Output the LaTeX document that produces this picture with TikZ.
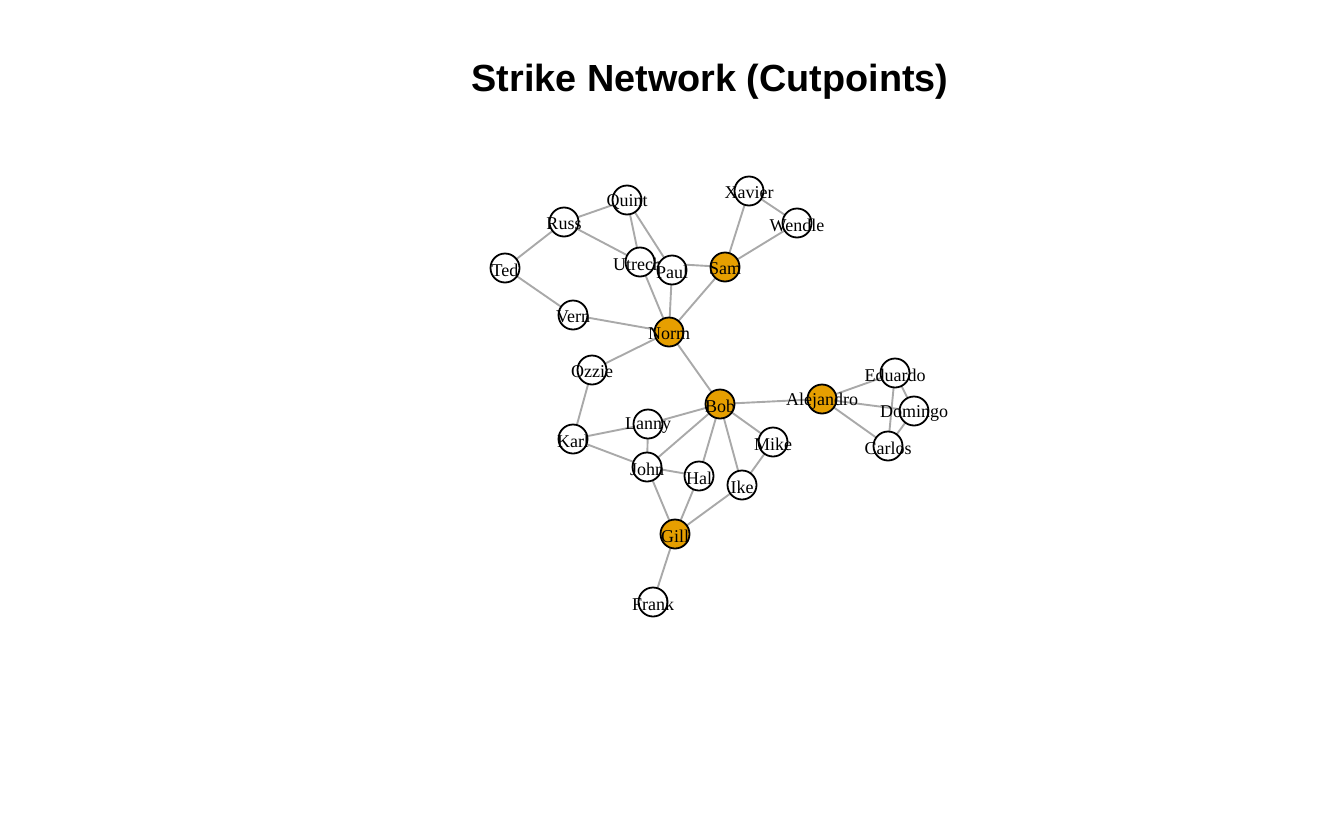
\documentclass[tikz,border=0pt]{standalone}
\usepackage{fontspec}
\setmainfont{Liberation Serif}
\newfontfamily\titlefont{Liberation Sans}
\usetikzlibrary{backgrounds}
\definecolor{edgegrey}{HTML}{A9A9A9}
\definecolor{cutorange}{HTML}{E69F00}

\begin{document}
\begin{tikzpicture}[x=1pt, y=-1pt,
  actor/.style={circle, draw=black, line width=1.8pt, fill=white,
    minimum size=29pt, inner sep=0pt,
    label={[font=\fontsize{18}{18}\selectfont, inner sep=0pt, yshift=-2pt]center:#1}},
  cutpoint/.style={actor=#1, fill=cutorange},
  tie/.style={draw=edgegrey, line width=1.9pt}]
\useasboundingbox (0,0) rectangle (1344,830);
\node (title) at (710,82) {\titlefont\bfseries\fontsize{37.8}{40}\selectfont Strike Network (Cutpoints)};
% upper group
\node (Quint) [actor=Quint] at (627,200) {};
\node (Russ) [actor=Russ] at (564,222) {};
\node (Ted) [actor=Ted] at (505,268) {};
\node (Utrecht) [actor=Utrecht] at (640,262) {};
\node (Paul) [actor=Paul] at (672,270) {};
\node (Sam) [cutpoint=Sam] at (725,267) {};
\node (Xavier) [actor=Xavier] at (749,191) {};
\node (Wendle) [actor=Wendle] at (797,223) {};
\node (Vern) [actor=Vern] at (573,315) {};
\node (Norm) [cutpoint=Norm] at (669,332) {};
% middle group
\node (Ozzie) [actor=Ozzie] at (592,370) {};
\node (Bob) [cutpoint=Bob] at (720,404) {};
\node (Lanny) [actor=Lanny] at (648,424) {};
\node (Karl) [actor=Karl] at (573,439) {};
\node (Mike) [actor=Mike] at (773,442) {};
\node (John) [actor=John] at (647,467) {};
\node (Hal) [actor=Hal] at (699,476) {};
\node (Ike) [actor=Ike] at (742,485) {};
\node (Gill) [cutpoint=Gill] at (675,534) {};
\node (Frank) [actor=Frank] at (653,602) {};
% right group
\node (Alejandro) [cutpoint=Alejandro] at (822,399) {};
\node (Eduardo) [actor=Eduardo] at (895,373) {};
\node (Domingo) [actor=Domingo] at (914,411) {};
\node (Carlos) [actor=Carlos] at (888,446) {};
\begin{scope}[on background layer]
\draw [tie] (Quint.center) -- (Russ.center) -- (Ted.center) -- (Vern.center) -- (Norm.center);
\draw [tie] (Russ.center) -- (Utrecht.center) -- (Quint.center) -- (Paul.center) -- (Norm.center);
\draw [tie] (Utrecht.center) -- (Norm.center) -- (Sam.center) -- (Xavier.center) -- (Wendle.center) -- (Sam.center);
\draw [tie] (Utrecht.center) -- (Sam.center);
\draw [tie] (Norm.center) -- (Ozzie.center) -- (Karl.center) -- (Lanny.center) -- (Bob.center) -- (Norm.center);
\draw [tie] (Karl.center) -- (John.center) -- (Lanny.center);
\draw [tie] (John.center) -- (Bob.center) -- (Hal.center) -- (John.center) -- (Gill.center) -- (Hal.center);
\draw [tie] (Bob.center) -- (Ike.center) -- (Mike.center) -- (Bob.center);
\draw [tie] (Ike.center) -- (Gill.center) -- (Frank.center);
\draw [tie] (Bob.center) -- (Alejandro.center) -- (Eduardo.center) -- (Domingo.center) -- (Carlos.center) -- (Alejandro.center) -- (Domingo.center);
\draw [tie] (Eduardo.center) -- (Carlos.center);
\end{scope}
\end{tikzpicture}
\end{document}
